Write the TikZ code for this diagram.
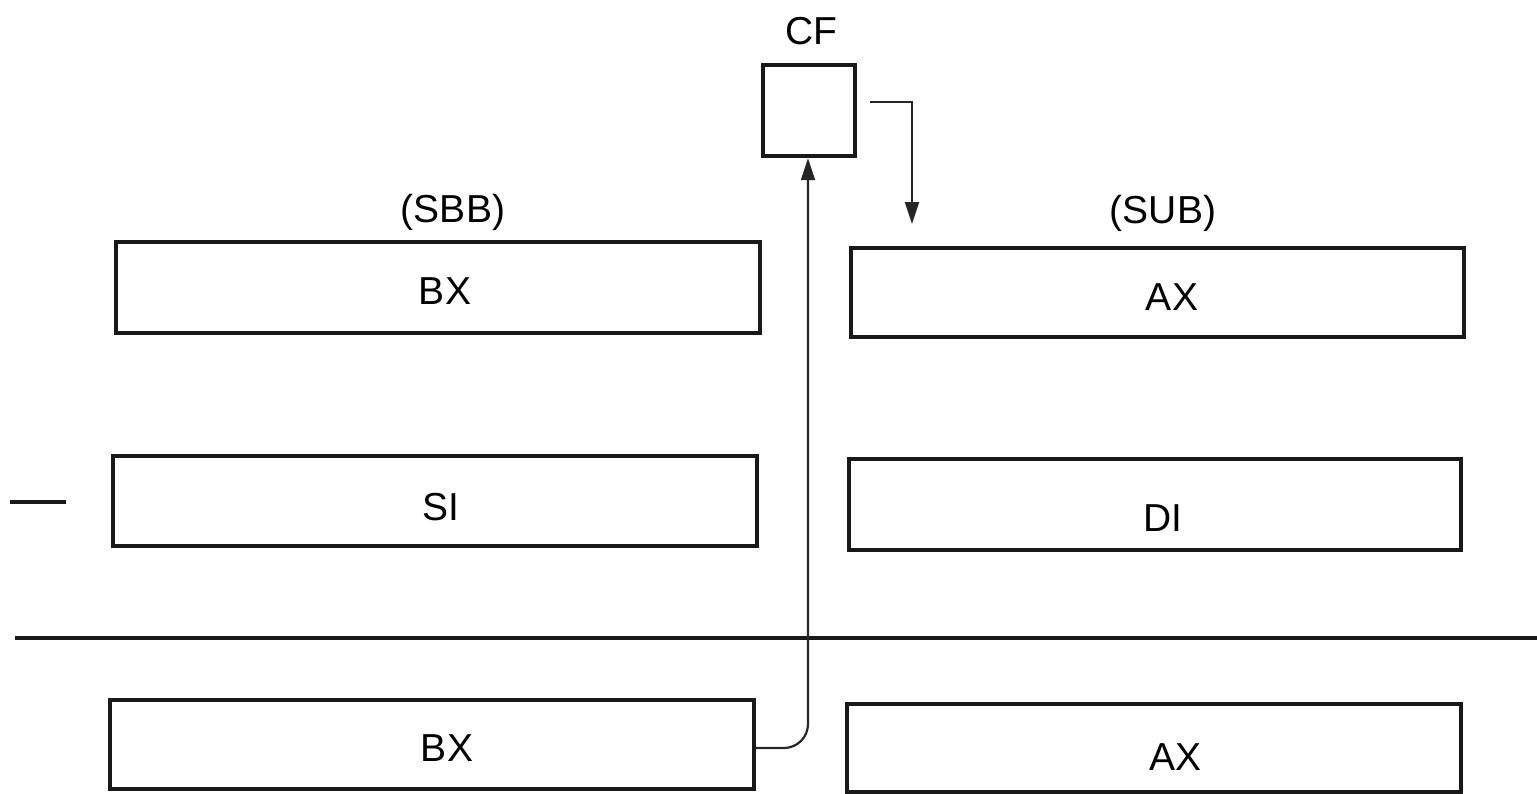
\documentclass[tikz,border=0pt]{standalone}
\usepackage{fontspec}
\setmainfont{Liberation Sans}
\usetikzlibrary{arrows.meta}
\begin{document}
\begin{tikzpicture}[x=0.5pt,y=-0.5pt,
  reg/.style={draw=black!90, line width=2.2pt, inner sep=0pt},
  lbl/.style={font=\fontsize{19.5}{22}\selectfont, inner sep=0pt, anchor=center},
  conn/.style={draw=black!85, line width=1.1pt},
  tip/.style={-{Triangle[length=11pt,width=7pt]}}]
\useasboundingbox (0,0) rectangle (1537,793);
\clip (0,0) rectangle (1537,793);
% CF flag
\node[reg, minimum width=46pt, minimum height=45.5pt] (cf) at (809,110.5) {};
\node[lbl] (cft) at (811,31) {CF};
% registers
\node[reg, minimum width=322pt, minimum height=45.5pt] (bx1) at (438,287.5) {};
\node[reg, minimum width=306.5pt, minimum height=44.5pt] (ax1) at (1157.5,292.5) {};
\node[reg, minimum width=322pt, minimum height=45pt] (si) at (435,501) {};
\node[reg, minimum width=306pt, minimum height=45.5pt] (di) at (1155,504.5) {};
\node[reg, minimum width=322pt, minimum height=44.5pt] (bx2) at (432,744.5) {};
\node[reg, minimum width=307pt, minimum height=44pt] (ax2) at (1154,748) {};
% labels
\node[lbl] (sbb) at (453,212) {(SBB)};
\node[lbl] (sub) at (1163,213) {(SUB)};
\node[lbl] (bx1t) at (445,291) {BX};
\node[lbl] (ax1t) at (1172,297) {AX};
\node[lbl] (sit) at (441,507) {SI};
\node[lbl] (dit) at (1163,518) {DI};
\node[lbl] (bx2t) at (447,748) {BX};
\node[lbl] (ax2t) at (1175,757) {AX};
% minus sign and separator line
\coordinate (m1) at (10,502);
\coordinate (m2) at (66,502);
\draw[line width=1.6pt, black!90] (m1) -- (m2);
\coordinate (h1) at (15,638);
\coordinate (h2) at (1537,638);
\draw[line width=1.6pt, black!90] (h1) -- (h2);
% borrow into CF
\coordinate (c1) at (808,748);
\draw[conn, tip, rounded corners=12pt] (bx2.east |- 0,748) -- (c1) -- (cf.south -| c1);
% CF out
\coordinate (o1) at (870,102);
\coordinate (o2) at (912,102);
\coordinate (o3) at (912,224);
\draw[conn, tip] (o1) -- (o2) -- (o3);
\end{tikzpicture}
\end{document}
